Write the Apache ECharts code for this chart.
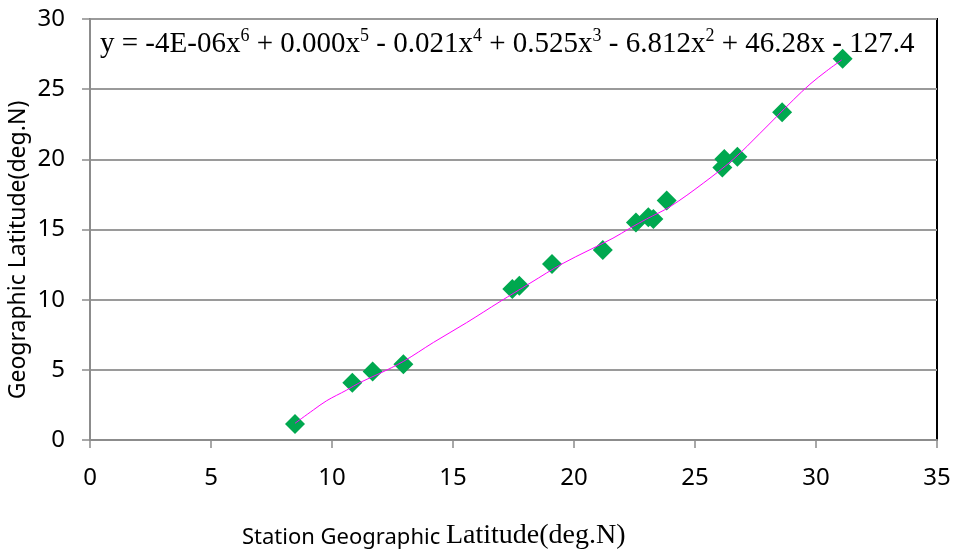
<!DOCTYPE html>
<html>
<head>
<meta charset="utf-8">
<script src="https://cdn.jsdelivr.net/npm/echarts@6/dist/echarts.min.js"></script>
<style>
  html, body { margin: 0; padding: 0; background: #fff; }
  #main { width: 954px; height: 549px; }
</style>
</head>
<body>
<div id="main"></div>
<script>
// station latitude vs geographic latitude
var stationLat = [8.47, 10.84, 11.68, 12.95, 17.45, 17.74, 19.09, 21.19, 22.56, 23.07, 23.28, 23.83, 26.13, 26.21, 26.75, 28.6, 31.1]
var geoLat = [1.14, 4.08, 4.89, 5.39, 10.76, 11.0, 12.54, 13.54, 15.49, 15.87, 15.75, 17.06, 19.41, 20.03, 20.19, 23.36, 27.16]

// trend line
var trendX = [8.47, 9.23, 9.78, 10.61, 11.16, 11.98, 12.95, 14.19, 15.56, 16.94, 18.18, 19.55, 21.61, 22.31, 23.0, 23.97, 25.34, 26.58, 27.69, 28.37, 29.06, 29.75, 30.44, 31.06]
var trendY = [1.19, 2.14, 2.8, 3.56, 4.1, 4.75, 5.6, 6.95, 8.36, 9.86, 11.17, 12.59, 14.38, 15.09, 15.75, 16.63, 18.3, 20.0, 21.86, 23.04, 24.23, 25.35, 26.3, 27.08]

var xTicks = [0, 5, 10, 15, 20, 25, 30, 35]
var yTicks = [0, 5, 10, 15, 20, 25, 30]

var sans = 'Noto Sans'
var serif = 'Liberation Serif'

var points = stationLat.map(function (x, i) { return [x, geoLat[i]] })
var trend = trendX.map(function (x, i) { return [x, trendY[i]] })

var myChart = echarts.init(document.getElementById('main'))
var option = {
  backgroundColor: '#fff',
  animation: false,
  title: [
    {
      // equation of the fitted curve
      left: 95,
      top: 21,
      text: '{t|y = -4E-06x}{s|6}{t| + 0.000x}{s|5}{t| - 0.021x}{s|4}{t| + 0.525x}{s|3}{t| - 6.812x}{s|2}{t| + 46.28x - 127.4}',
      textStyle: {
        fontWeight: 'normal',
        rich: {
          t: { fontFamily: serif, fontSize: 29, fontWeight: 'normal', color: '#000', lineHeight: 33, verticalAlign: 'bottom' },
          s: { fontFamily: serif, fontSize: 18, fontWeight: 'normal', color: '#000', lineHeight: 33, verticalAlign: 'top', padding: [1, 0, 0, 0] }
        }
      }
    },
    {
      left: 237,
      top: 515,
      text: '{a|Station Geographic }{b|Latitude(deg.N)}',
      textStyle: {
        fontWeight: 'normal',
        rich: {
          a: { fontFamily: sans, fontSize: 22, fontWeight: 'normal', color: '#000', lineHeight: 30, verticalAlign: 'bottom', padding: [0, 0, 1, 0] },
          b: { fontFamily: serif, fontSize: 28, fontWeight: 'normal', color: '#000', lineHeight: 30, verticalAlign: 'bottom' }
        }
      }
    }
  ],
  graphic: [
    {
      type: 'text',
      x: 18,
      y: 250,
      rotation: Math.PI / 2,
      style: {
        text: 'Geographic Latitude(deg.N)',
        fontFamily: sans,
        fontSize: 23,
        fill: '#000',
        align: 'center',
        verticalAlign: 'middle'
      }
    }
  ],
  grid: {
    left: 90,
    right: 17,
    top: 19,
    bottom: 109,
    outerBoundsMode: 'none',
    containLabel: false,
    show: true,
    borderColor: '#000',
    borderWidth: 2
  },
  xAxis: {
    type: 'value',
    min: 0,
    max: 35,
    interval: 5,
    axisLine: { show: true, onZero: false, lineStyle: { color: '#8c8c8c', width: 2 } },
    axisTick: { show: true, inside: false, length: 8, lineStyle: { color: '#8c8c8c', width: 1.5 } },
    axisLabel: {
      margin: 26,
      fontFamily: sans,
      fontSize: 24,
      color: '#000',
      formatter: function (v) { return xTicks.indexOf(v) >= 0 ? String(v) : '' }
    },
    splitLine: { show: false }
  },
  yAxis: {
    type: 'value',
    min: 0,
    max: 30,
    interval: 5,
    axisLine: { show: true, onZero: false, lineStyle: { color: '#8c8c8c', width: 2 } },
    axisTick: { show: true, inside: false, length: 8, lineStyle: { color: '#8c8c8c', width: 1.5 } },
    axisLabel: {
      margin: 25,
      fontFamily: sans,
      fontSize: 24,
      color: '#000',
      formatter: function (v) { return yTicks.indexOf(v) >= 0 ? String(v) : '' }
    },
    splitLine: { show: true, lineStyle: { color: '#9a9a9a', width: 2 } }
  },
  series: [
    {
      name: 'trend',
      type: 'line',
      data: trend,
      smooth: 0.35,
      showSymbol: false,
      symbol: 'none',
      lineStyle: { color: '#ff00ff', width: 1 },
      z: 3
    },
    {
      name: 'stations',
      type: 'scatter',
      data: points,
      symbol: 'diamond',
      symbolSize: [20, 20],
      itemStyle: { color: '#00a84f', opacity: 1 },
      z: 2
    }
  ]
}
myChart.setOption(option)
</script>
</body>
</html>
